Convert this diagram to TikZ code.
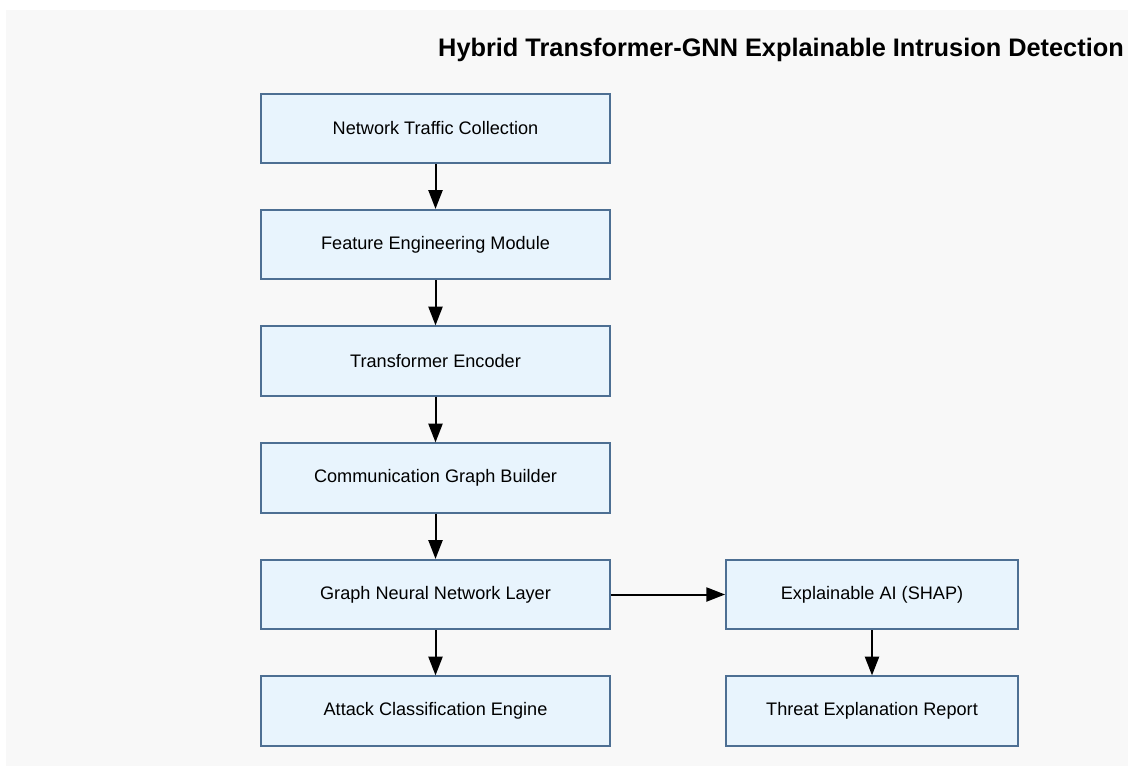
\documentclass[tikz,border=0pt]{standalone}
\usepackage{fontspec}
\setmainfont{Liberation Sans}
\usetikzlibrary{arrows.meta}

\definecolor{idsFill}{HTML}{E8F4FD}
\definecolor{idsEdge}{HTML}{4D6F93}
\definecolor{idsBack}{HTML}{F8F8F8}

\tikzset{
  stage/.style={draw=idsEdge,fill=idsFill,line width=1.4pt,
    minimum width=262pt,minimum height=52pt,inner sep=0pt,font=\fontsize{13.6}{16}\selectfont},
  side/.style={stage,minimum width=219pt},
  flow/.style={-{Triangle[length=14pt,width=10.5pt]},line width=1.5pt,black}
}

\begin{document}
\begin{tikzpicture}[x=0.75pt,y=-0.75pt]

  % Canvas
  \useasboundingbox (0,0) rectangle (1128,771);
  \fill[white] (0,0) rectangle (1128,771);
  \fill[idsBack] (6,10) rectangle (1128,766);

  % Title
  \node[font=\bfseries\fontsize{19}{22}\selectfont] (title) at (781,50)
    {Hybrid Transformer-GNN Explainable Intrusion Detection};

  % Main pipeline
  \node[stage] (collect) at (435.5,128.5) {Network Traffic Collection};
  \node[stage] (feature) at (435.5,244.5) {Feature Engineering Module};
  \node[stage] (encoder) at (435.5,361) {Transformer Encoder};
  \node[stage] (graph)   at (435.5,478) {Communication Graph Builder};
  \node[stage] (gnn)     at (435.5,594.5) {Graph Neural Network Layer};
  \node[stage] (classify) at (435.5,711) {Attack Classification Engine};

  % Explanation branch
  \node[side] (xai)    at (872,594.5) {Explainable AI (SHAP)};
  \node[side] (report) at (872,711) {Threat Explanation Report};

  % Arrows
  \draw[flow] (collect) -- (feature);
  \draw[flow] (feature) -- (encoder);
  \draw[flow] (encoder) -- (graph);
  \draw[flow] (graph) -- (gnn);
  \draw[flow] (gnn) -- (classify);
  \draw[flow] (gnn) -- (xai);
  \draw[flow] (xai) -- (report);

\end{tikzpicture}
\end{document}
